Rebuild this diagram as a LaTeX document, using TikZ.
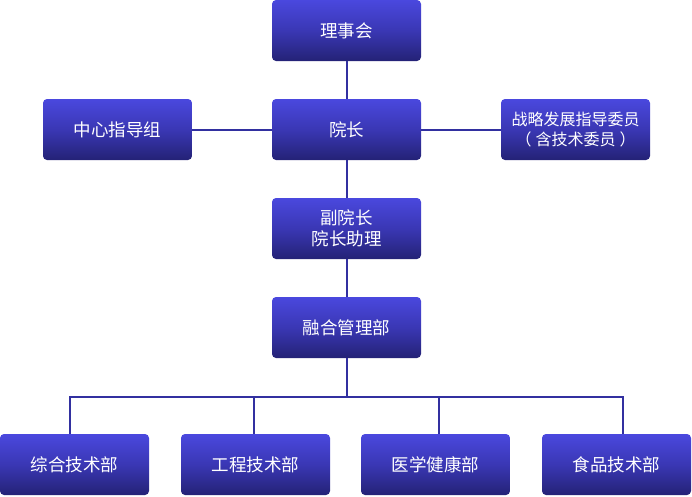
\documentclass[tikz,border=0pt]{standalone}
\usepackage{fontspec}
\setmainfont{Noto Sans CJK SC}
\usetikzlibrary{positioning}

\begin{document}
\begin{tikzpicture}[x=1pt, y=-1pt,
    unit/.style={rounded corners=4pt, minimum width=149pt, minimum height=61pt,
      inner sep=0pt, outer sep=0pt, top color=boxtop, bottom color=boxbot,
      middle color=boxmid, text=white, font=\fontsize{17.5}{21}\selectfont,
      align=center},
    link/.style={draw=linkc, line width=2pt}]
      \definecolor{boxtop}{RGB}{74,72,222}
      \definecolor{boxmid}{RGB}{58,55,180}
      \definecolor{boxbot}{RGB}{36,34,118}
      \definecolor{linkc}{RGB}{50,48,160}
      \useasboundingbox (0,0) rectangle (692,496);

      \node[unit] (lishi)     at (346.5,30.5)  {理事会};
      \node[unit] (yuanzhang) at (346.5,129.5) {院长};
      \node[unit] (zhongxin)  at (117.5,129.5) {中心指导组};
      \node[unit, font=\fontsize{16}{20}\selectfont] (zhanlue) at (575.5,129.5)
        {战略发展指导委员\\（\hspace{4pt}含技术委员\hspace{4pt}）};
      \node[unit] (fu)        at (346.5,228.5) {副院长\\院长助理};
      \node[unit] (ronghe)    at (346.5,327.5) {融合管理部};

      \node[unit] (zonghe)    at (74.5,464.5)  {综合技术部};
      \node[unit] (gongcheng) at (255.5,464.5) {工程技术部};
      \node[unit] (yixue)     at (435.5,464.5) {医学健康部};
      \node[unit] (shipin)    at (616.5,464.5) {食品技术部};

      \coordinate (bus1) at (70,397);
      \coordinate (bus2) at (254,397);
      \coordinate (bus3) at (439,397);
      \coordinate (bus4) at (623,397);

      \draw[link] (lishi) -- (yuanzhang);
      \draw[link] (zhongxin) -- (yuanzhang);
      \draw[link] (yuanzhang) -- (zhanlue);
      \draw[link] (yuanzhang) -- (fu);
      \draw[link] (fu) -- (ronghe);
      \draw[link] (ronghe.south) -- (ronghe.south |- bus1);
      \draw[link] ([xshift=-1pt]bus1) -- ([xshift=1pt]bus4);
      \draw[link] (bus1) -- (bus1 |- zonghe.north);
      \draw[link] (bus2) -- (bus2 |- gongcheng.north);
      \draw[link] (bus3) -- (bus3 |- yixue.north);
      \draw[link] (bus4) -- (bus4 |- shipin.north);
\end{tikzpicture}
\end{document}
